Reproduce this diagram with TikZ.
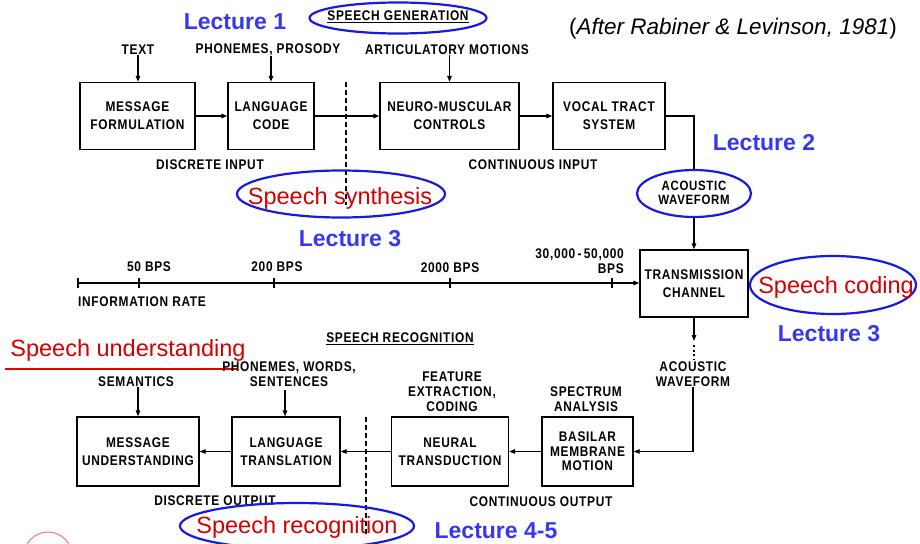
\documentclass[tikz,border=0pt]{standalone}
\usepackage{fontspec}
\setmainfont{Liberation Sans}
\newfontfamily\letterfam[LetterSpace=5,FakeStretch=0.85]{Liberation Sans}
\usetikzlibrary{arrows.meta,shapes.geometric}
\definecolor{lecblue}{RGB}{55,55,240}
\definecolor{ellblue}{RGB}{25,25,225}
\definecolor{spred}{RGB}{210,0,0}
\definecolor{ulred}{RGB}{235,0,0}
\newcommand{\dfont}{\letterfam\fontsize{14}{18}\selectfont\bfseries}
\newcommand{\lfont}{\letterfam\fontsize{14}{15}\selectfont\bfseries}
\tikzset{
  box/.style={draw, line width=1.3pt, inner sep=0pt, align=center, font=\dfont},
  lab/.style={inner sep=0pt, align=center, font=\lfont},
  lec/.style={inner sep=0pt, text=lecblue, font=\fontsize{23}{26}\selectfont\bfseries},
  redtxt/.style={inner sep=0pt, text=spred, font=\fontsize{23.5}{26}\selectfont},
  ell/.style={draw=ellblue, line width=2.2pt, ellipse, inner sep=0pt},
  arr/.style={line width=1.3pt, -{Triangle[length=6pt,width=4.5pt]}},
  ln/.style={line width=1.3pt},
  dsh/.style={line width=1.2pt, dash pattern=on 5pt off 3pt},
}
\begin{document}
\begin{tikzpicture}[x=1pt,y=-1pt]
\useasboundingbox (0,0) rectangle (920,543);
\fill[white] (0,0) rectangle (920,543);
% faint slide decoration bottom-left
\draw[red!55!white, line width=1pt] (48,556) circle (24);

% ---------- titles ----------
\node[lec] (lec1) at (235,22) {Lecture 1};
\node[ell, minimum width=177, minimum height=31] (genE) at (398,18) {};
\node[lab] (gen) at (398,17) {\underline{SPEECH GENERATION}};
\node[inner sep=0pt, font=\fontsize{22.5}{26}\selectfont] (after) at (733,29) {(\textit{After Rabiner \& Levinson, 1981})};

% ---------- top row ----------
\node[lab] (text) at (138,50) {TEXT};
\node[lab] (phon) at (268,50) {PHONEMES, PROSODY};
\node[lab] (artic) at (447,50) {ARTICULATORY MOTIONS};

\node[box, minimum width=115, minimum height=67] (mf) at (137.5,116) {MESSAGE\\FORMULATION};
\node[box, minimum width=86, minimum height=67] (lc) at (271,116) {LANGUAGE\\CODE};
\node[box, minimum width=139, minimum height=67] (nm) at (449.5,116) {NEURO-MUSCULAR\\CONTROLS};
\node[box, minimum width=112, minimum height=67] (vt) at (609,116) {VOCAL TRACT\\SYSTEM};

\draw[arr] (text.south) -- (text.south |- mf.north);
\draw[arr] (phon.south -| lc.north) -- (lc.north);
\draw[arr] (artic.south -| nm.north) -- (nm.north);
\draw[arr] (mf.east) -- (lc.west);
\draw[arr] (lc.east) -- (nm.west);
\draw[arr] (nm.east) -- (vt.west);
\draw[dsh] (346,82) -- (346,205);

\node[lab] (dinp) at (210,165) {DISCRETE INPUT};
\node[lab] (cinp) at (533,165) {CONTINUOUS INPUT};

\node[lec] (lec2) at (764,143) {Lecture 2};
\node[ell, minimum width=114, minimum height=47] (aw1) at (694,193.5) {};
\node[lab, font=\letterfam\fontsize{13.5}{14}\selectfont\bfseries] (aw1t) at (694,193) {ACOUSTIC\\WAVEFORM};
\draw[ln] (vt.east) -| (aw1.north);

\node[ell, minimum width=208, minimum height=47] (synthE) at (341,194) {};
\node[redtxt] (synth) at (340,198) {Speech synthesis};
\node[lec] (lec3a) at (350,239) {Lecture 3};

% ---------- channel ----------
\node[box, minimum width=108, minimum height=67] (ch) at (694,283.5) {TRANSMISSION\\CHANNEL};
\draw[arr] (aw1.south) -- (ch.north);
\node[ell, minimum width=166, minimum height=58] (codingE) at (833,285) {};
\node[redtxt] (coding) at (836,287) {Speech coding};
\node[lec] (lec3b) at (829,334) {Lecture 3};

% ---------- information rate axis ----------
\coordinate (ax0) at (78,283);
\draw[arr] (ax0) -- (ax0 -| ch.west);
\foreach \x in {78,139,274,450,612} \draw[ln] (\x,278) -- (\x,288);
\node[lab] (b50) at (149,267) {50 BPS};
\node[lab] (b200) at (277,267) {200 BPS};
\node[lab] (b2000) at (450,268) {2000 BPS};
\node[lab, anchor=east, align=right] (b30k) at (624,261) {30,000\,-\,50,000\\BPS};
\node[lab, anchor=west] (irate) at (78,302) {INFORMATION RATE};

% ---------- bottom ----------
\coordinate (chdown) at (694,341);
\draw[arr] (ch.south) -- (chdown);
\draw[line width=1.6pt, dash pattern=on 2pt off 2.5pt] (694,345) -- (694,359);
\node[lab] (aw2) at (693,374) {ACOUSTIC\\WAVEFORM};

\node[lab] (rec) at (400,339) {\underline{SPEECH RECOGNITION}};
\node[redtxt] (underst) at (128,350) {Speech understanding};
\draw[ulred, line width=2pt] (5,369) -- (237,369);

\node[lab] (sem) at (136,382) {SEMANTICS};
\node[lab] (pws) at (289,374) {PHONEMES, WORDS,\\SENTENCES};
\node[lab] (feat) at (452,392) {FEATURE\\EXTRACTION,\\CODING};
\node[lab] (spec) at (586,399.5) {SPECTRUM\\ANALYSIS};

\node[box, minimum width=122, minimum height=69] (mu) at (138,451.5) {MESSAGE\\UNDERSTANDING};
\node[box, minimum width=108, minimum height=69] (lt) at (286,451.5) {LANGUAGE\\TRANSLATION};
\node[box, minimum width=117, minimum height=69] (nt) at (450,451.5) {NEURAL\\TRANSDUCTION};
\node[box, minimum width=91, minimum height=69, font=\letterfam\fontsize{14}{14.5}\selectfont\bfseries] (bm) at (587.5,451.5) {BASILAR\\MEMBRANE\\MOTION};

\draw[arr] (sem.south -| mu.north) -- (mu.north);
\draw[arr] (285,390) -- (lt.north -| 285,0);
\draw[arr] (aw2.south) |- (bm.east);
\draw[arr] (bm.west) -- (nt.east);
\draw[arr] (nt.west) -- (lt.east);
\draw[arr] (lt.west) -- (mu.east);
\draw[dsh] (366,417) -- (366,537);

\node[lab] (dout) at (215,501) {DISCRETE OUTPUT};
\node[lab] (cout) at (541,502) {CONTINUOUS OUTPUT};
\node[ell, minimum width=234, minimum height=46] (recogE) at (297,526) {};
\node[redtxt] (recog) at (297,527) {Speech recognition};
\node[lec] (lec45) at (496,531) {Lecture 4-5};
\end{tikzpicture}
\end{document}
